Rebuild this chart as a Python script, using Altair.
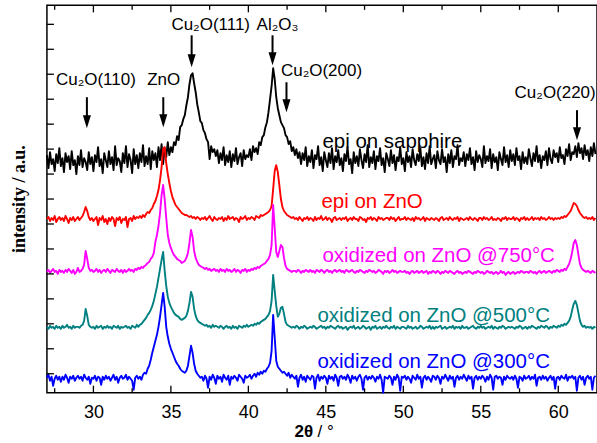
import altair as alt
import pandas as pd

STEP = 0.1

# intensity values (arbitrary units, offset stacked) sampled every 0.1 deg, rows keyed by row start (deg)
BLACK = {
    27: [238, 225, 241, 229, 234, 222, 239, 230, 245, 227],
    28: [235, 221, 240, 231, 237, 224, 242, 228, 233, 219],
    29: [237, 228, 243, 226, 235, 231, 223, 241, 229, 236],
    30: [222, 238, 231, 246, 227, 234, 220, 240, 233, 226],
    31: [242, 229, 236, 223, 247, 228, 235, 232, 221, 240],
    32: [230, 247, 226, 239, 233, 220, 244, 229, 238, 225],
    33: [240, 231, 248, 227, 237, 229, 245, 224, 242, 233],
    34: [240, 226, 246, 233, 249, 229, 245, 236, 251, 238],
    35: [246, 241, 251, 248, 257, 253, 266, 268, 274, 278],
    36: [288, 296, 309, 318, 320, 310, 301, 289, 281, 272],
    37: [270, 263, 260, 254, 251, 234, 247, 241, 244, 237],
    38: [243, 230, 240, 233, 246, 228, 238, 231, 242, 226],
    39: [239, 232, 245, 229, 236, 240, 227, 243, 234, 238],
    40: [236, 244, 233, 247, 241, 245, 239, 251, 248, 256],
    41: [258, 266, 271, 281, 294, 307, 325, 314, 296, 285],
    42: [278, 271, 268, 265, 258, 256, 249, 252, 242, 246],
    43: [238, 244, 235, 241, 229, 240, 233, 246, 227, 237],
    44: [231, 243, 225, 238, 234, 247, 228, 236, 222, 241],
    45: [233, 226, 240, 230, 245, 224, 237, 231, 243, 228],
    46: [235, 222, 239, 232, 246, 229, 234, 220, 241, 230],
    47: [237, 227, 244, 233, 225, 239, 231, 248, 226, 236],
    48: [230, 242, 224, 237, 232, 245, 228, 235, 221, 240],
    49: [234, 227, 243, 230, 238, 223, 236, 232, 246, 229],
    50: [235, 222, 241, 231, 237, 226, 244, 233, 228, 239],
    51: [232, 245, 227, 236, 224, 240, 230, 247, 229, 234],
    52: [238, 225, 242, 233, 229, 244, 231, 236, 221, 239],
    53: [230, 243, 226, 237, 234, 248, 228, 235, 232, 241],
    54: [227, 239, 233, 245, 229, 236, 223, 242, 231, 238],
    55: [234, 226, 247, 230, 237, 232, 244, 225, 239, 231],
    56: [236, 223, 241, 234, 228, 246, 231, 238, 226, 243],
    57: [232, 239, 228, 245, 233, 237, 224, 241, 230, 236],
    58: [229, 244, 235, 227, 240, 232, 247, 231, 238, 225],
    59: [237, 233, 242, 228, 245, 234, 230, 243, 236, 240],
    60: [231, 246, 235, 238, 229, 244, 237, 249, 233, 241],
    61: [239, 247, 236, 250, 240, 245, 234, 248, 238, 243],
    62: [232, 246, 237, 250, 239],
}

RED = {
    27: [174, 176, 172, 175, 173, 177, 171, 174, 176, 173],
    28: [175, 172, 177, 174, 170, 175, 173, 176, 172, 174],
    29: [176, 173, 175, 177, 181, 186, 182, 176, 173, 175],
    30: [172, 174, 176, 168, 175, 173, 177, 171, 174, 169],
    31: [175, 172, 176, 174, 167, 175, 173, 176, 170, 174],
    32: [173, 176, 166, 174, 175, 172, 177, 174, 176, 175],
    33: [177, 175, 178, 176, 179, 181, 180, 183, 185, 189],
    34: [192, 197, 203, 213, 226, 244, 246, 230, 219, 210],
    35: [202, 196, 192, 188, 186, 184, 182, 180, 179, 178],
    36: [178, 177, 176, 177, 175, 176, 174, 176, 175, 173],
    37: [175, 174, 176, 173, 175, 177, 174, 172, 176, 174],
    38: [173, 175, 174, 176, 172, 175, 173, 177, 174, 175],
    39: [176, 173, 175, 174, 171, 176, 174, 175, 177, 173],
    40: [175, 174, 176, 175, 173, 177, 176, 175, 178, 177],
    41: [178, 179, 180, 181, 183, 187, 204, 222, 228, 221],
    42: [208, 194, 186, 182, 180, 178, 177, 176, 175, 176],
    43: [174, 175, 173, 176, 174, 172, 175, 174, 176, 173],
    44: [175, 174, 172, 176, 173, 175, 174, 177, 173, 174],
    45: [176, 173, 175, 174, 171, 175, 176, 173, 174, 175],
    46: [173, 175, 174, 176, 172, 174, 175, 173, 176, 174],
    47: [174, 172, 176, 175, 173, 174, 171, 175, 174, 176],
    48: [173, 175, 174, 172, 176, 174, 175, 173, 174, 175],
    49: [175, 173, 176, 174, 175, 172, 174, 176, 173, 174],
    50: [174, 176, 173, 175, 174, 173, 175, 172, 176, 174],
    51: [175, 173, 174, 176, 172, 175, 174, 173, 175, 174],
    52: [173, 175, 174, 172, 175, 176, 173, 174, 175, 173],
    53: [176, 174, 173, 175, 174, 176, 172, 175, 174, 173],
    54: [174, 175, 173, 176, 174, 173, 175, 174, 172, 175],
    55: [175, 173, 176, 174, 175, 173, 174, 176, 173, 174],
    56: [173, 175, 174, 172, 175, 174, 176, 173, 175, 174],
    57: [174, 176, 173, 175, 174, 172, 175, 174, 176, 173],
    58: [175, 173, 174, 176, 173, 175, 174, 175, 173, 176],
    59: [174, 175, 173, 174, 176, 174, 175, 173, 175, 174],
    60: [175, 174, 176, 175, 177, 176, 178, 180, 182, 186],
    61: [190, 189, 187, 183, 180, 178, 176, 175, 176, 174],
    62: [175, 174, 176, 173, 175],
}

MAGENTA = {
    27: [121, 123, 120, 122, 124, 121, 122, 119, 123, 121],
    28: [122, 120, 123, 121, 124, 122, 120, 123, 119, 121],
    29: [125, 121, 122, 124, 128, 142, 134, 125, 122, 123],
    30: [121, 122, 124, 121, 123, 120, 122, 123, 121, 124],
    31: [122, 120, 123, 122, 121, 124, 122, 121, 123, 120],
    32: [123, 121, 122, 124, 122, 123, 121, 124, 123, 125],
    33: [124, 126, 125, 127, 128, 130, 131, 134, 136, 140],
    34: [151, 158, 167, 180, 198, 208, 194, 175, 158, 150],
    35: [145, 141, 138, 136, 134, 133, 132, 130, 131, 132],
    36: [135, 140, 150, 163, 156, 142, 135, 131, 128, 127],
    37: [126, 125, 124, 125, 123, 124, 122, 123, 124, 122],
    38: [123, 121, 124, 122, 123, 121, 124, 122, 123, 121],
    39: [122, 124, 121, 123, 122, 120, 123, 122, 124, 121],
    40: [123, 122, 124, 123, 125, 124, 126, 125, 127, 128],
    41: [129, 130, 132, 134, 138, 148, 188, 165, 141, 136],
    42: [142, 148, 146, 135, 127, 124, 123, 122, 121, 122],
    43: [122, 121, 123, 122, 120, 122, 121, 123, 122, 121],
    44: [123, 121, 122, 120, 123, 122, 121, 123, 122, 120],
    45: [122, 123, 121, 122, 120, 122, 123, 121, 122, 123],
    46: [121, 122, 120, 123, 122, 121, 122, 123, 121, 120],
    47: [122, 121, 123, 122, 121, 120, 122, 121, 123, 122],
    48: [121, 122, 120, 121, 123, 122, 121, 119, 122, 121],
    49: [122, 120, 121, 123, 121, 122, 120, 121, 122, 121],
    50: [121, 122, 120, 121, 119, 121, 122, 120, 121, 122],
    51: [120, 121, 122, 120, 121, 122, 119, 121, 120, 122],
    52: [121, 120, 122, 121, 119, 121, 120, 122, 121, 120],
    53: [122, 121, 120, 119, 121, 122, 120, 121, 119, 120],
    54: [121, 120, 122, 121, 120, 119, 121, 120, 122, 121],
    55: [120, 121, 119, 120, 122, 121, 120, 121, 119, 120],
    56: [121, 119, 120, 122, 120, 121, 118, 120, 121, 119],
    57: [120, 121, 119, 120, 121, 120, 122, 121, 120, 121],
    58: [121, 120, 122, 121, 120, 121, 119, 121, 122, 120],
    59: [121, 122, 120, 121, 122, 121, 120, 122, 121, 123],
    60: [122, 121, 123, 122, 124, 123, 126, 129, 134, 141],
    61: [150, 153, 148, 138, 129, 125, 123, 122, 121, 122],
    62: [121, 120, 122, 121, 120],
}

TEAL = {
    27: [66, 64, 67, 65, 66, 64, 67, 65, 66, 64],
    28: [67, 65, 66, 68, 65, 66, 64, 67, 65, 66],
    29: [66, 65, 67, 68, 72, 84, 77, 68, 66, 65],
    30: [66, 64, 67, 65, 66, 67, 64, 66, 65, 67],
    31: [65, 66, 64, 67, 66, 65, 67, 64, 66, 65],
    32: [66, 67, 65, 66, 64, 67, 66, 65, 68, 66],
    33: [68, 69, 71, 73, 75, 78, 80, 83, 87, 92],
    34: [99, 106, 115, 124, 133, 141, 122, 107, 96, 90],
    35: [86, 83, 80, 78, 77, 76, 74, 73, 74, 75],
    36: [77, 82, 90, 101, 96, 84, 77, 73, 71, 70],
    37: [69, 68, 67, 68, 66, 67, 65, 68, 66, 67],
    38: [66, 65, 67, 66, 64, 66, 67, 65, 66, 64],
    39: [67, 65, 66, 64, 67, 66, 65, 67, 66, 68],
    40: [66, 67, 68, 67, 69, 68, 70, 69, 71, 72],
    41: [73, 74, 76, 78, 82, 92, 118, 102, 87, 76],
    42: [79, 85, 86, 79, 71, 68, 67, 66, 65, 66],
    43: [65, 67, 66, 64, 66, 65, 67, 66, 64, 65],
    44: [66, 65, 67, 66, 64, 65, 66, 67, 65, 66],
    45: [64, 66, 65, 67, 66, 65, 64, 66, 67, 65],
    46: [66, 64, 65, 66, 63, 65, 66, 65, 67, 64],
    47: [65, 66, 64, 65, 67, 66, 64, 65, 66, 63],
    48: [66, 65, 67, 64, 65, 66, 64, 66, 65, 67],
    49: [65, 64, 66, 65, 67, 64, 66, 65, 64, 66],
    50: [66, 65, 64, 67, 65, 66, 64, 65, 66, 64],
    51: [65, 67, 66, 64, 65, 66, 65, 67, 64, 66],
    52: [64, 66, 65, 66, 67, 64, 65, 66, 64, 65],
    53: [66, 65, 67, 64, 66, 65, 66, 64, 67, 65],
    54: [65, 66, 64, 65, 66, 67, 65, 64, 66, 65],
    55: [67, 65, 66, 64, 65, 66, 65, 67, 64, 66],
    56: [65, 64, 66, 65, 67, 66, 64, 65, 66, 65],
    57: [66, 65, 64, 66, 65, 67, 66, 64, 65, 66],
    58: [64, 66, 65, 67, 66, 65, 64, 66, 65, 67],
    59: [66, 65, 67, 66, 64, 66, 65, 67, 66, 65],
    60: [67, 66, 68, 67, 69, 68, 70, 72, 76, 83],
    61: [89, 92, 88, 80, 72, 68, 66, 67, 65, 66],
    62: [65, 66, 64, 66, 65],
}

BLUE = {
    27: [15, 18, 12, 16, 7, 14, 17, 13, 16, 11],
    28: [16, 13, 18, 15, 10, 16, 14, 17, 12, 15],
    29: [17, 14, 16, 12, 18, 15, 13, 16, 9, 15],
    30: [14, 17, 12, 16, 15, 8, 16, 13, 17, 14],
    31: [16, 12, 15, 18, 13, 16, 10, 15, 17, 14],
    32: [15, 18, 13, 16, 14, 12, 3, 15, 17, 14],
    33: [16, 13, 18, 20, 19, 24, 27, 33, 40, 46],
    34: [52, 58, 66, 76, 88, 100, 86, 66, 56, 49],
    35: [44, 40, 36, 32, 29, 27, 24, 22, 21, 20],
    36: [22, 27, 37, 47, 40, 29, 22, 19, 17, 15],
    37: [16, 12, 17, 14, 5, 16, 13, 18, 15, 9],
    38: [17, 14, 16, 11, 18, 15, 13, 17, 8, 16],
    39: [14, 17, 15, 12, 18, 16, 14, 10, 17, 15],
    40: [16, 18, 14, 17, 19, 16, 20, 18, 21, 19],
    41: [22, 21, 24, 26, 30, 42, 78, 55, 32, 26],
    42: [24, 22, 20, 21, 19, 17, 20, 15, 18, 16],
    43: [14, 17, 6, 15, 18, 13, 16, 11, 17, 15],
    44: [13, 17, 16, 4, 15, 18, 12, 16, 14, 17],
    45: [15, 9, 17, 14, 16, 12, 18, 15, 7, 16],
    46: [17, 14, 16, 13, 18, 15, 10, 17, 14, 16],
    47: [12, 16, 18, 14, 3, 15, 17, 13, 16, 14],
    48: [17, 15, 11, 16, 14, 18, 13, 0, 16, 15],
    49: [14, 17, 15, 8, 16, 13, 18, 15, 2, 16],
    50: [15, 17, 13, 16, 14, 10, 17, 15, 13, 18],
    51: [14, 16, 5, 15, 17, 13, 16, 14, 11, 17],
    52: [16, 13, 17, 15, 9, 16, 14, 18, 15, 12],
    53: [17, 14, 16, 6, 15, 17, 13, 16, 14, 18],
    54: [15, 12, 17, 14, 16, 4, 15, 17, 13, 16],
    55: [14, 17, 15, 11, 16, 13, 18, 15, 3, 16],
    56: [17, 14, 16, 15, 8, 16, 13, 17, 15, 14],
    57: [16, 13, 17, 14, 5, 16, 15, 12, 17, 14],
    58: [15, 17, 13, 16, 14, 18, 7, 15, 16, 13],
    59: [17, 14, 16, 12, 15, 17, 13, 16, 4, 15],
    60: [16, 13, 17, 15, 14, 18, 12, 16, 15, 17],
    61: [14, 16, 2, 15, 17, 13, 16, 8, 15, 17],
    62: [14, 16, 3, 15, 17],
}

SERIES = [("epi on sapphire", BLACK, "#000000"),
          ("epi on ZnO", RED, "#ff0000"),
          ("oxidized on ZnO @750°C", MAGENTA, "#ff00ff"),
          ("oxidized on ZnO @500°C", TEAL, "#008080"),
          ("oxidized on ZnO @300°C", BLUE, "#0000ff")]

SER_LABEL_X = [44.78, 44.72, 44.78, 44.46, 44.46]
SER_LABEL_Y = [245, 185, 131, 71, 25]

ANN_TEXT = ["Cu₂O(110)", "ZnO", "Cu₂O(111)", "Al₂O₃", "Cu₂O(200)", "Cu₂O(220)"]
ANN_X = [30.16, 34.54, 37.57, 41.88, 44.72, 59.80]
ANN_Y = [308.5, 308.5, 363.5, 363.5, 317.5, 295.5]

ARROW_X = [29.58, 34.51, 36.34, 41.56, 42.46, 61.21]
ARROW_TOP = [296, 296, 358, 358, 311, 283]
ARROW_TIP = [265, 266, 326, 328, 281, 253]

X_LABELS = [30, 35, 40, 45, 50, 55, 60]
X_MINOR = [27.5, 32.5, 37.5, 42.5, 47.5, 52.5, 57.5]
Y_TICKS = [19, 44, 69, 94, 119, 144, 169, 194, 219, 244, 269, 294, 319, 344, 369]

W, H = 551, 388
FONT = "Liberation Sans"

xscale = alt.Scale(domain=[27, 62.5], nice=False, zero=False)
yscale = alt.Scale(domain=[0, 388], nice=False, zero=False)
xaxis = alt.Axis(values=X_LABELS, format="d", labelFont=FONT, labelFontSize=18,
                 labelColor="black", ticks=False, tickSize=0, domain=False,
                 grid=False, labelPadding=11, title=None)


def frame(rows):
    recs = []
    for start, vals in rows.items():
        for j, v in enumerate(vals):
            recs.append({"x": round(start + STEP * j, 2), "y": v})
    return pd.DataFrame(recs)


layers = []
for name, rows, col in SERIES:
    layers.append(
        alt.Chart(frame(rows)).mark_line(color=col, strokeWidth=1.9, strokeJoin="round").encode(
            x=alt.X("x:Q", scale=xscale, axis=xaxis, title=None),
            y=alt.Y("y:Q", scale=yscale, axis=None),
        )
    )

lab = pd.DataFrame({"t": [s[0] for s in SERIES], "x": SER_LABEL_X, "y": SER_LABEL_Y,
                    "c": [s[2] for s in SERIES]})
layers.append(
    alt.Chart(lab).mark_text(font=FONT, fontSize=20.5, align="left", baseline="alphabetic").encode(
        x=alt.X("x:Q", scale=xscale, axis=xaxis, title=None),
        y=alt.Y("y:Q", scale=yscale, axis=None),
        text="t:N",
        color=alt.Color("c:N", scale=None, legend=None),
    )
)

ann = pd.DataFrame({"t": ANN_TEXT, "x": ANN_X, "y": ANN_Y})
layers.append(
    alt.Chart(ann).mark_text(font=FONT, fontSize=17, align="center", baseline="alphabetic",
                             color="black").encode(
        x=alt.X("x:Q", scale=xscale, axis=xaxis, title=None),
        y=alt.Y("y:Q", scale=yscale, axis=None),
        text="t:N",
    )
)

arr = pd.DataFrame({"x": ARROW_X, "top": ARROW_TOP, "tip": ARROW_TIP})
arr["shaft_end"] = arr["tip"] + 8
arr["head"] = arr["tip"] + 6.5
layers.append(
    alt.Chart(arr).mark_rule(color="black", strokeWidth=2).encode(
        x=alt.X("x:Q", scale=xscale, axis=xaxis, title=None),
        y=alt.Y("top:Q", scale=yscale, axis=None),
        y2="shaft_end:Q",
    )
)
layers.append(
    alt.Chart(arr).mark_point(shape="M-0.62,-1L0.62,-1L0,1Z", filled=True, color="black",
                              opacity=1, size=169, strokeWidth=0).encode(
        x=alt.X("x:Q", scale=xscale, axis=xaxis, title=None),
        y=alt.Y("head:Q", scale=yscale, axis=None),
    )
)

# inward ticks
maj = pd.DataFrame({"t": X_LABELS})
mnr = pd.DataFrame({"t": X_MINOR})
for df_, ln in ((maj, 7), (mnr, 4.5)):
    layers.append(
        alt.Chart(df_).mark_rule(color="black", strokeWidth=1.3).encode(
            x=alt.X("t:Q", scale=xscale, axis=xaxis, title=None),
            y=alt.value(H), y2=alt.value(H - ln)))
    layers.append(
        alt.Chart(df_).mark_rule(color="black", strokeWidth=1.3).encode(
            x=alt.X("t:Q", scale=xscale, axis=xaxis, title=None),
            y=alt.value(0), y2=alt.value(ln)))

layers.append(
    alt.Chart(pd.DataFrame({"t": Y_TICKS})).mark_rule(color="black", strokeWidth=1.3).encode(
        y=alt.Y("t:Q", scale=yscale, axis=None),
        x=alt.value(0), x2=alt.value(7)))

# axis titles
layers.append(
    alt.Chart(pd.DataFrame({"t": ["intensity / a.u."]})).mark_text(
        font="Liberation Serif", fontWeight="bold", fontSize=18, angle=270,
        align="center", baseline="middle", color="black").encode(
        text="t:N", x=alt.value(-27), y=alt.value(194)))
layers.append(
    alt.Chart(pd.DataFrame({"t": ["2θ"]})).mark_text(
        font=FONT, fontWeight="bold", fontSize=17, align="left",
        baseline="alphabetic", color="black").encode(
        text="t:N", x=alt.value(248), y=alt.value(432)))
layers.append(
    alt.Chart(pd.DataFrame({"t": ["/ °"]})).mark_text(
        font=FONT, fontSize=17, align="left", baseline="alphabetic", color="black").encode(
        text="t:N", x=alt.value(271), y=alt.value(432)))

chart = alt.layer(*layers).properties(
    width=W, height=H,
    autosize=alt.AutoSizeParams(type="none"),
    padding={"left": 47, "top": 5, "right": 0, "bottom": 50},
    background="white",
).configure_view(stroke="black", strokeWidth=1.5)

chart.save("out.html", embed_options={"renderer": "svg", "actions": False})
